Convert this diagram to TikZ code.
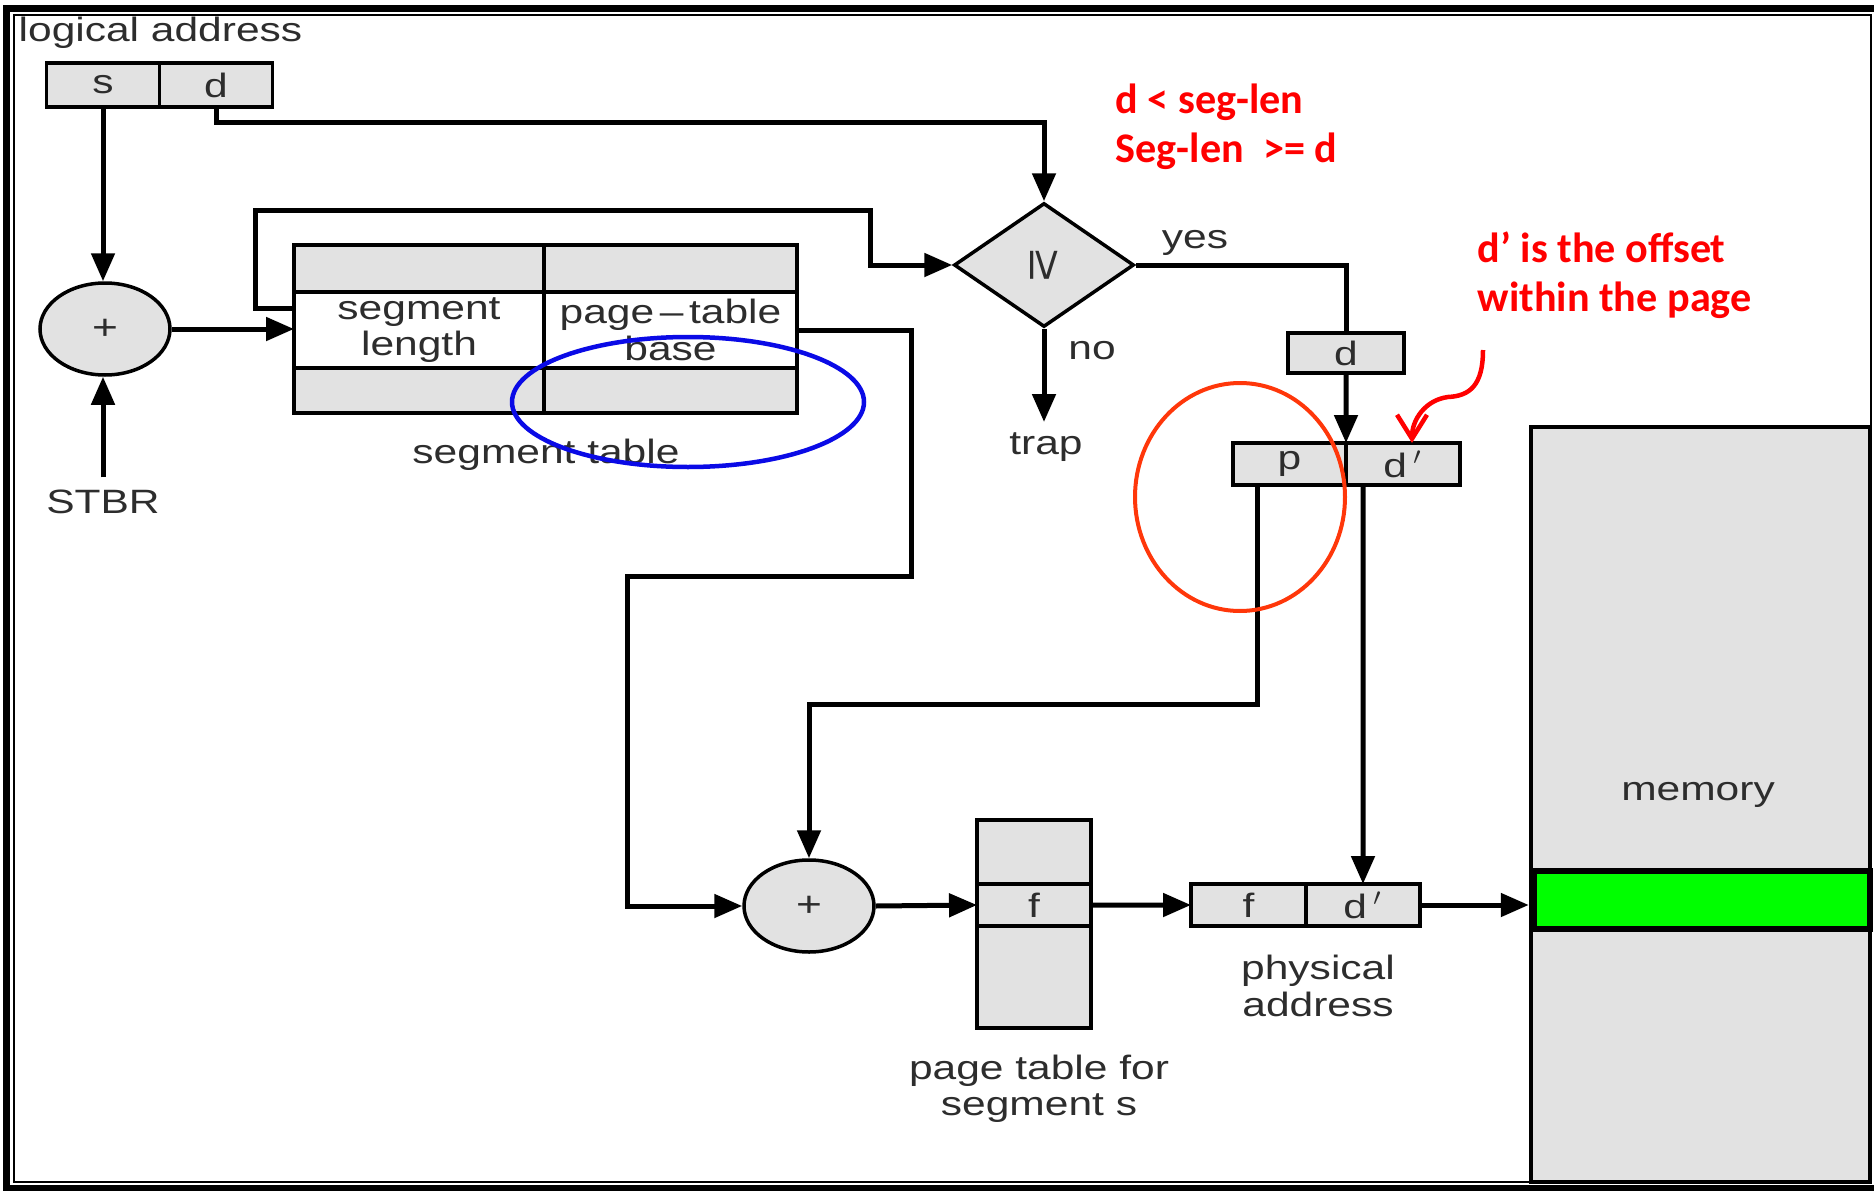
\documentclass[tikz,border=0pt]{standalone}
\usepackage{fontspec}
\setmainfont{Liberation Sans}[FakeStretch=1.26]
\newfontfamily\notefont{Carlito}
\usetikzlibrary{arrows.meta,shapes.geometric,positioning,calc}

\definecolor{cellgray}{RGB}{226,226,226}
\definecolor{inkgray}{RGB}{45,45,45}
\definecolor{markblue}{RGB}{10,10,230}
\definecolor{markred}{RGB}{255,55,10}
\definecolor{notered}{RGB}{255,0,0}
\definecolor{slotgreen}{RGB}{0,255,0}

\begin{document}
\begin{tikzpicture}[x=0.1mm,y=-0.1mm,>={Triangle[length=2.8mm,width=2.3mm]},
    txt/.style={font={\fontsize{9.6}{10.3}\selectfont\lineskiplimit=-20pt},text=inkgray,align=center,inner sep=0pt},
    cell/.style={txt,draw=black,line width=0.35mm,fill=cellgray,outer sep=0pt,minimum height=4.2mm},
    adder/.style={ellipse,draw=black,line width=0.35mm,fill=cellgray,minimum width=13mm,
        minimum height=9.2mm,inner sep=0pt,font=\fontsize{10}{10}\selectfont,text=inkgray},
    wire/.style={line width=0.5mm},
    conn/.style={wire,->},
    note/.style={font={\fontsize{12}{14}\selectfont\notefont\bfseries},text=notered,
        align=left,anchor=west,inner sep=0pt}]
  \useasboundingbox (0,0) rectangle (1874,1191);
  % double frame
  \draw[line width=0.7mm] (6.5,8.5) rectangle (1880,1188.5);
  \draw[line width=0.15mm] (14,15) rectangle (1871,1182);

  % logical address and first adder
  \node[txt,anchor=west] (logaddr) at (18,33) {logical address};
  \node[cell,minimum width=11.3mm,minimum height=4.4mm] (s) at (103,85) {s};
  \node[cell,minimum width=11.3mm,minimum height=4.4mm,right=0pt of s] (d) {d};
  \node[adder] (add1) at (105,329) {+};
  \node[txt] (stbr) at (103,502) {STBR};

  % segment table
  \node[cell,minimum width=25mm,minimum height=4.7mm] (sl1) at (419,268.5) {};
  \node[cell,fill=white,minimum width=25mm,minimum height=7.6mm,below=0pt of sl1] (sl2) {segment\\length};
  \node[cell,minimum width=25mm,minimum height=4.5mm,below=0pt of sl2] (sl3) {};
  \node[cell,minimum width=25.3mm,minimum height=4.7mm,right=0pt of sl1] (sr1) {};
  \node[cell,fill=white,minimum width=25.3mm,minimum height=7.6mm,right=0pt of sl2] (sr2) {page\,–\,table\\base};
  \node[cell,minimum width=25.3mm,minimum height=4.5mm,right=0pt of sl3] (sr3) {};
  \node[txt] (segcap) at (546,455) {segment table};

  % limit check
  \node[diamond,draw=black,line width=0.35mm,fill=cellgray,minimum width=18mm,minimum height=12.4mm,
      inner sep=0pt,text=inkgray,font=\fontsize{13}{13}\selectfont] (cmp) at (1044,265) {\rotatebox{-90}{≥}};
  \node[txt] (yes) at (1195,243) {yes};
  \node[txt] (no) at (1092,351) {no};
  \node[txt,anchor=north] (trap) at (1046,432) {trap};
  \node[cell,minimum width=11.6mm,minimum height=4mm] (dy) at (1346,353) {d};
  \node[cell,minimum width=11.3mm] (p) at (1289.5,464) {p};
  \node[cell,minimum width=11.4mm,right=0pt of p] (dp) {d$\,'$};

  % page table, physical address, memory
  \node[adder] (add2) at (809,906) {+};
  \node[cell,minimum width=11.4mm,minimum height=6.4mm] (pt1) at (1034,852) {};
  \node[cell,minimum width=11.4mm,below=0pt of pt1] (ptf) {f};
  \node[cell,minimum width=11.4mm,minimum height=10.2mm,below=0pt of ptf] (pt3) {};
  \node[txt] (ptcap) at (1039,1089) {page table for\\segment s};
  \node[cell,minimum width=11.5mm] (pf) at (1248.5,905) {f};
  \node[cell,minimum width=11.4mm,right=0pt of pf] (pd) {d$\,'$};
  \node[txt] (physcap) at (1318,986) {physical\\address};
  \node[draw=black,line width=0.45mm,fill=cellgray,minimum width=33.9mm,minimum height=75.5mm,
      inner sep=0pt] (mem) at (1700.5,804.5) {};
  \node[txt] (memlbl) at (1698,795) {memory};
  \node[draw=black,line width=0.6mm,fill=slotgreen,minimum width=33.6mm,minimum height=5.8mm,
      inner sep=0pt] (slot) at (1702,900) {};

  % connectors
  \coordinate (loopL) at (255,210);
  \coordinate (loopR) at (870,210);
  \coordinate (ptbR) at (911,576);
  \coordinate (ptbL) at (627,576);
  \draw[conn] (s.south) -- (s |- add1.north);
  \draw[conn] ([yshift=1.2mm]stbr.north) -- (stbr |- add1.south);
  \draw[conn] (add1.east) -- (add1.east -| sl2.west);
  \draw[conn] ([yshift=2.2mm]sl2.west) -| (loopL) -- (loopR) |- (cmp.west);
  \draw[conn] (d.south) -- ++(0,15) -| (cmp.north);
  \draw[conn,shorten >=1mm] (cmp.south) -- (cmp.south |- trap.north);
  \draw[wire] (cmp.east) -| (dy.north);
  \draw[conn] (dy.south) -- (p.north east);
  \draw[conn] (sr2.east) -| (ptbR) -- (ptbL) |- (add2.west);
  \draw[conn] ([xshift=-3.2mm]p.south) |- ([yshift=15.4mm]add2.north) -- (add2.north);
  \draw[conn] ([xshift=-4mm]dp.south) -- (pd.north);
  \draw[conn] (add2.east) -- (ptf.west);
  \draw[conn] (ptf.east) -- (pf.west);
  \draw[conn] (pd.east) -- (pd.east -| mem.west);

  % annotations
  \draw[markblue,line width=0.45mm] (688,402) ellipse [x radius=17.6mm,y radius=6.5mm];
  \draw[markred,line width=0.4mm] (1240,497) ellipse [x radius=10.5mm,y radius=11.4mm];
  \node[note] (cond) at (1115,126.5) {d < seg-len\\Seg-len\ \ >= d};
  \node[note] (offnote) at (1477,275) {d’ is the offset\\within the page};
  \coordinate (notetail) at (1483,350);
  \draw[notered,line width=0.45mm,-{Straight Barb[length=2.4mm,width=3mm]}] (notetail)
      .. controls (1483,385) and (1470,396) .. (1448,397)
      .. controls (1425,400) and (1412,420) .. ([xshift=0.9mm]dp.north);
\end{tikzpicture}
\end{document}
